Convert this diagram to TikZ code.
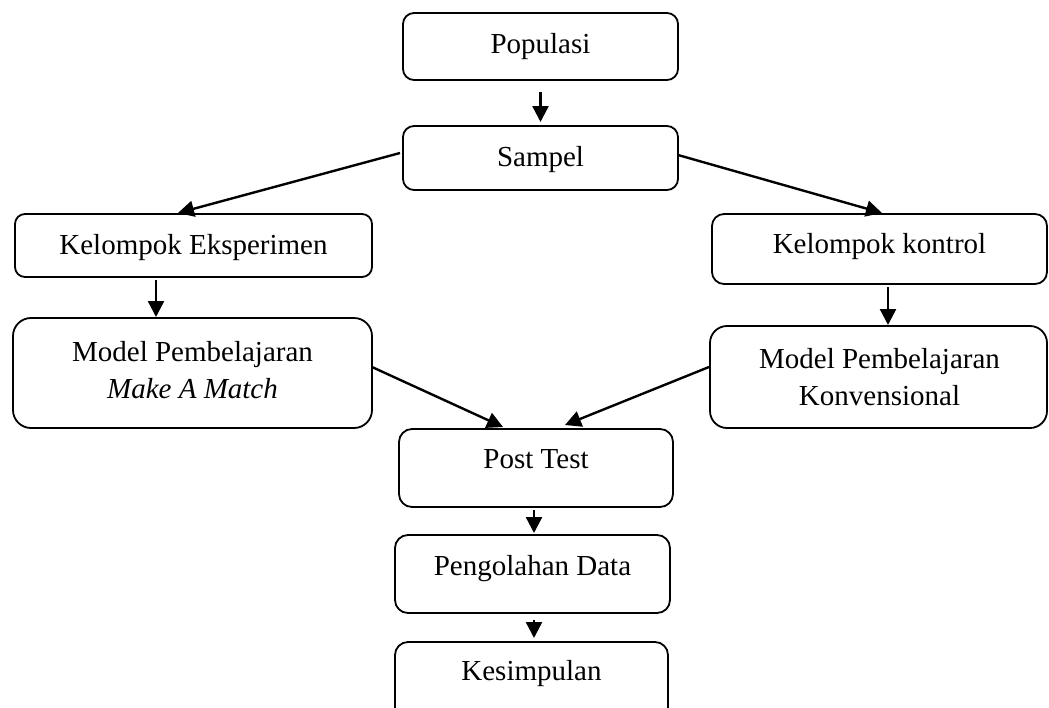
\documentclass[tikz,border=0pt]{standalone}
\usepackage{fontspec}
\setmainfont{Liberation Serif}
\usetikzlibrary{arrows.meta,calc}
\begin{document}
\begin{tikzpicture}[x=1pt,y=-1pt,
  box/.style={draw, line width=1.8pt, inner sep=0pt, outer sep=0pt},
  txt/.style={inner sep=0pt, outer sep=0pt, anchor=base, font=\fontsize{29pt}{37pt}\selectfont},
  conn/.style={line width=2.4pt, -{Triangle[length=16pt,width=16pt]}}]
\useasboundingbox (0,0) rectangle (1049,707);
\clip (0,0) rectangle (1049,707);
% boxes
\node[box, minimum width=275pt, minimum height=67pt, rounded corners=11pt] (pop) at (540.5,46.5) {};
\node[box, minimum width=275pt, minimum height=64pt, rounded corners=11pt] (samp) at (540.5,158) {};
\node[box, minimum width=357pt, minimum height=63pt, rounded corners=10pt] (ke) at (193.5,245.5) {};
\node[box, minimum width=335pt, minimum height=70pt, rounded corners=12pt] (kk) at (879.5,249) {};
\node[box, minimum width=359pt, minimum height=110pt, rounded corners=18pt] (mpmm) at (192.5,373) {};
\node[box, minimum width=337pt, minimum height=102pt, rounded corners=17pt] (mpk) at (878.5,377) {};
\node[box, minimum width=274pt, minimum height=78pt, rounded corners=13pt] (pt) at (536,468) {};
\node[box, minimum width=275pt, minimum height=78pt, rounded corners=13pt] (pd) at (532.5,574) {};
\node[box, minimum width=273pt, minimum height=78pt, rounded corners=13pt] (kes) at (531.5,681) {};
% texts
\node[txt] (popt) at (540.5,53) {Populasi};
\node[txt] (sampt) at (540.5,166) {Sampel};
\node[txt] (ket) at (193.5,254) {Kelompok Eksperimen};
\node[txt] (kkt) at (879.5,253) {Kelompok kontrol};
\node[txt] (mpmmta) at (192.5,361) {Model Pembelajaran};
\node[txt] (mpmmtb) at (192.5,398) {\itshape Make A Match};
\node[txt] (mpkta) at (879.5,368) {Model Pembelajaran};
\node[txt] (mpktb) at (879.5,405) {Konvensional};
\node[txt] (ptt) at (536,468) {Post Test};
\node[txt] (pdt) at (532.5,575) {Pengolahan Data};
\node[txt] (kest) at (531.5,680) {Kesimpulan};
% connectors
\draw[conn, shorten <=12pt, shorten >=4pt] (pop.south) -- (samp.north);
\draw[conn] ($(samp.west)+(-3,-5)$) -- ($(ke.north west)+(163,-1)$);
\draw[conn] ($(samp.east)+(0,-3)$) -- ($(kk.north west)+(170,-1)$);
\draw[conn] ($(ke.south west)+(141,3)$) -- ($(mpmm.north west)+(143,-1)$);
\draw[conn] ($(kk.south west)+(176,3)$) -- ($(mpk.north west)+(178,-1)$);
\draw[conn] ($(mpmm.east)+(0,-6)$) -- ($(pt.north west)+(104,-2)$);
\draw[conn] ($(mpk.west)+(-1,-10)$) -- ($(pt.north west)+(166,-4)$);
\draw[conn] ($(pt.south)+(-2,3)$) -- ($(pd.north)+(1.5,-2)$);
\draw[conn] ($(pd.south)+(1.5,7)$) -- ($(kes.north)+(2.5,-4)$);
\end{tikzpicture}
\end{document}
